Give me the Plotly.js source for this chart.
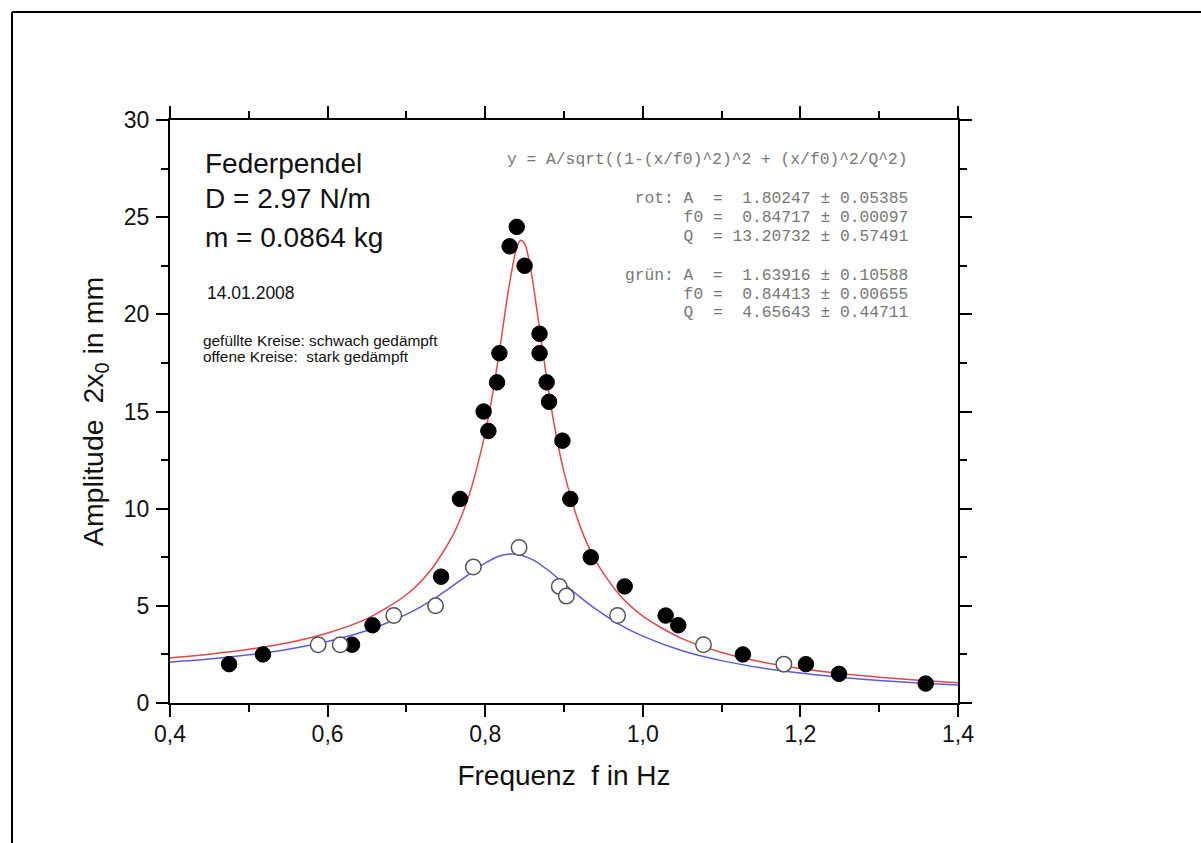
<!DOCTYPE html>
<html>
<head>
<meta charset="utf-8">
<script src="https://cdn.plot.ly/plotly-3.0.1.min.js"></script>
<style>html,body{margin:0;padding:0;background:#fff;}#chart{width:1201px;height:843px;}</style>
</head>
<body>
<div id="chart"></div>
<script>
// Measured data: filled circles (weakly damped)
var filledX = [0.475,0.518,0.631,0.657,0.744,0.768,0.798,0.804,0.815,0.818,0.831,0.840,0.850,0.869,0.869,0.878,0.881,0.898,0.908,0.934,0.977,1.029,1.045,1.127,1.207,1.249,1.359];
var filledY = [2.0,2.5,3.0,4.0,6.5,10.5,15.0,14.0,16.5,18.0,23.5,24.5,22.5,19.0,18.0,16.5,15.5,13.5,10.5,7.5,6.0,4.5,4.0,2.5,2.0,1.5,1.0];
// open circles (strongly damped)
var openX = [0.588,0.616,0.684,0.737,0.785,0.843,0.894,0.903,0.968,1.077,1.179];
var openY = [3.0,3.0,4.5,5.0,7.0,8.0,6.0,5.5,4.5,3.0,2.0];
// fit curves (red = rot, blue = grün)
var redX = [0.40,0.45,0.50,0.55,0.60,0.65,0.70,0.73,0.76,0.78,0.80,0.81,0.82,0.83,0.84,0.845,0.85,0.855,0.86,0.87,0.88,0.89,0.90,0.92,0.94,0.97,1.00,1.05,1.10,1.15,1.20,1.25,1.30,1.35,1.40];
var redY = [2.32,2.51,2.76,3.10,3.60,4.34,5.57,6.79,8.72,10.76,13.89,16.05,18.64,21.37,23.43,23.81,23.64,22.92,21.79,18.97,16.17,13.79,11.88,9.14,7.33,5.58,4.47,3.31,2.60,2.12,1.78,1.52,1.33,1.17,1.04];
var blueX = [0.40,0.45,0.50,0.55,0.60,0.65,0.70,0.73,0.76,0.78,0.80,0.82,0.84,0.86,0.88,0.90,0.92,0.94,0.97,1.00,1.05,1.10,1.15,1.20,1.25,1.30,1.35,1.40];
var blueY = [2.10,2.26,2.48,2.77,3.17,3.73,4.56,5.23,6.06,6.65,7.20,7.59,7.66,7.38,6.83,6.15,5.46,4.84,4.05,3.44,2.69,2.18,1.81,1.54,1.33,1.16,1.03,0.92];

var infoLines = [
  "Federpendel",
  "D = 2.97 N/m",
  "m = 0.0864 kg"
];
var dateText = "14.01.2008";
var legendLines = ["gefüllte Kreise: schwach gedämpft", "offene Kreise:  stark gedämpft"];
var fitLines = [
  "y = A/sqrt((1-(x/f0)^2)^2 + (x/f0)^2/Q^2)",
  " rot: A  =  1.80247 ± 0.05385",
  "      f0 =  0.84717 ± 0.00097",
  "      Q  = 13.20732 ± 0.57491",
  "grün: A  =  1.63916 ± 0.10588",
  "      f0 =  0.84413 ± 0.00655",
  "      Q  =  4.65643 ± 0.44711"
];
var xTitle = "Frequenz  f in Hz";
var yTitle = "Amplitude  2x<sub>0</sub> in mm  ";

function nb(s){ return s.replace(/ /g, "\u00A0"); }

var SANS = "Liberation Sans, Arial, Helvetica, sans-serif";
var MONO = "Liberation Mono, Courier New, monospace";

var traces = [
  {x: redX, y: redY, mode: "lines", line: {color: "#e2474d", width: 1.5, shape: "spline", smoothing: 0.8}, hoverinfo: "skip"},
  {x: blueX, y: blueY, mode: "lines", line: {color: "#5b5be3", width: 1.5, shape: "spline", smoothing: 0.8}, hoverinfo: "skip"},
  {x: filledX, y: filledY, mode: "markers", marker: {symbol: "circle", size: 15.5, color: "#000", line: {color: "#000", width: 1}}},
  {x: openX, y: openY, mode: "markers", marker: {symbol: "circle", size: 15.5, color: "#fff", line: {color: "#555", width: 1.5}}}
];

var annotations = [];
var infoY = [0.9262, 0.8645, 0.7976];
infoLines.forEach(function(t, i){
  annotations.push({xref: "paper", yref: "paper", x: 0.0419, y: infoY[i], xanchor: "left", yanchor: "middle",
    text: t, showarrow: false, font: {family: SANS, size: 28, color: "#111"}});
});
annotations.push({xref: "paper", yref: "paper", x: 0.0444, y: 0.7033, xanchor: "left", yanchor: "middle",
  text: dateText, showarrow: false, font: {family: SANS, size: 17.5, color: "#111"}});
var legY = [0.6226, 0.5935];
legendLines.forEach(function(t, i){
  annotations.push({xref: "paper", yref: "paper", x: 0.0393, y: legY[i], xanchor: "left", yanchor: "middle",
    text: nb(t), showarrow: false, font: {family: SANS, size: 15.4, color: "#111"}});
});
var fitY = [0.9314, 0.8645, 0.8336, 0.8010, 0.7341, 0.7015, 0.6690];
fitLines.forEach(function(t, i){
  annotations.push({xref: "paper", yref: "paper", x: 0.9391, y: fitY[i], xanchor: "right", yanchor: "middle",
    text: nb(t), showarrow: false, font: {family: MONO, size: 16.3, color: "#777"}});
});

var shapes = [
  {type: "line", xref: "paper", yref: "paper", x0: -0.2005, x1: 1.31, y0: 1.1852, y1: 1.1852, line: {color: "#000", width: 2}},
  {type: "line", xref: "paper", yref: "paper", x0: -0.2005, x1: -0.2005, y0: 1.1852, y1: -0.25, line: {color: "#000", width: 2}}
];

var axisCommon = {
  showline: true, linecolor: "#000", linewidth: 2, mirror: "ticks",
  ticks: "outside", ticklen: 12, tickwidth: 2, tickcolor: "#000",
  showgrid: false, zeroline: false,
  tickfont: {family: SANS, size: 23, color: "#111"}
};

var layout = {
  width: 1201, height: 843,
  margin: {l: 170, r: 243, t: 120, b: 140},
  paper_bgcolor: "#fff", plot_bgcolor: "#fff",
  showlegend: false,
  separators: ",.",
  xaxis: Object.assign({}, axisCommon, {
    range: [0.4, 1.4], tickmode: "linear", tick0: 0.4, dtick: 0.2, tickformat: ".1f",
    ticklabelstandoff: -3,
    minor: {ticks: "outside", ticklen: 7, tickwidth: 2, tickcolor: "#000", dtick: 0.1, tick0: 0.4, showgrid: false},
    title: {text: nb(xTitle), font: {family: SANS, size: 28, color: "#111"}, standoff: 20}
  }),
  yaxis: Object.assign({}, axisCommon, {
    range: [0, 30], tickmode: "linear", tick0: 0, dtick: 5,
    ticklabelstandoff: 2,
    minor: {ticks: "outside", ticklen: 7, tickwidth: 2, tickcolor: "#000", dtick: 2.5, tick0: 0, showgrid: false},
    title: {text: nb(yTitle), font: {family: SANS, size: 28.5, color: "#111"}, standoff: 12}
  }),
  annotations: annotations,
  shapes: shapes
};

Plotly.newPlot("chart", traces, layout, {displayModeBar: false, staticPlot: true});
</script>
</body>
</html>
